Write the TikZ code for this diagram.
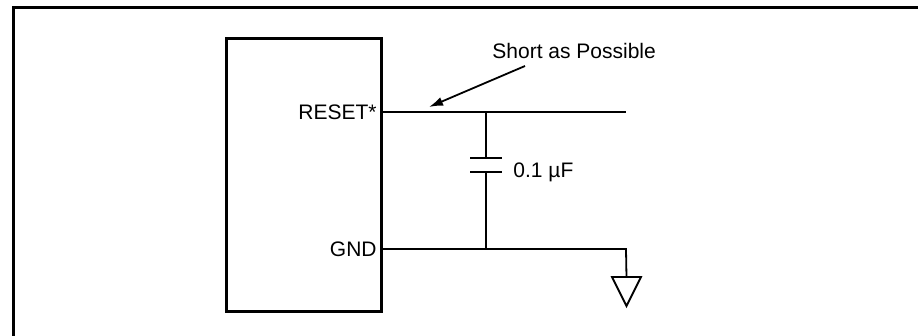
\documentclass[tikz,border=0pt]{standalone}
\usepackage{fontspec}
\setmainfont{Liberation Sans}
\usepackage{tikz}
\usetikzlibrary{arrows.meta}

\begin{document}
\begin{tikzpicture}[x=0.5pt,y=-0.5pt,
    wire/.style={line width=0.9pt},
    pinlabel/.style={anchor=east,inner sep=1.5pt},
    every node/.style={font=\fontsize{10.5}{12}\selectfont}]
  \useasboundingbox (0,0) rectangle (918,336);
  % frame
  \draw[line width=1.2pt] (13.5,336) -- (13.5,7.5) -- (918,7.5);

  % chip
  \node[draw,line width=1.5pt,minimum width=77.5pt,minimum height=136.5pt,
        inner sep=0pt,anchor=north west] (chip) at (225,37) {};
  \coordinate (rst) at (380,112);
  \coordinate (gndpin) at (380,249);
  \node[pinlabel] (rstlbl) at (rst) {RESET*};
  \node[pinlabel] (gndlbl) at (gndpin) {GND};

  % reset line and capacitor
  \coordinate (rstend) at (626,112);
  \coordinate (capt) at (486,112);
  \coordinate (capb) at (486,249);
  \coordinate (plate1) at (486,158);
  \coordinate (plate2) at (486,172);
  \draw[wire] (rst) -- (rstend);
  \draw[wire] (capt) -- (plate1);
  \draw[wire] (plate2) -- (capb);
  \draw[wire] ([xshift=-8pt]plate1) -- ([xshift=8pt]plate1);
  \draw[wire] ([xshift=-8pt]plate2) -- ([xshift=8pt]plate2);
  \node[anchor=base west,inner sep=0pt] (caplbl) at (513,178) {0.1 µF};

  % ground
  \coordinate (gndcorner) at (626,249);
  \coordinate (gnd) at (626.5,277);
  \draw[wire] (gndpin) -- (gndcorner) -- (gnd);
  \draw[wire,line join=miter] ([xshift=-7.25pt]gnd) -- ([xshift=7.25pt]gnd)
    -- ([yshift=-14.5pt]gnd) -- cycle;

  % note
  \node[anchor=base west,inner sep=0pt] (note) at (492,59) {Short as Possible};
  \coordinate (notestart) at (525,66);
  \coordinate (notetip) at (429,107);
  \draw[wire,-{Latex[length=7pt,width=4.5pt]}] (notestart) -- (notetip);
\end{tikzpicture}
\end{document}
